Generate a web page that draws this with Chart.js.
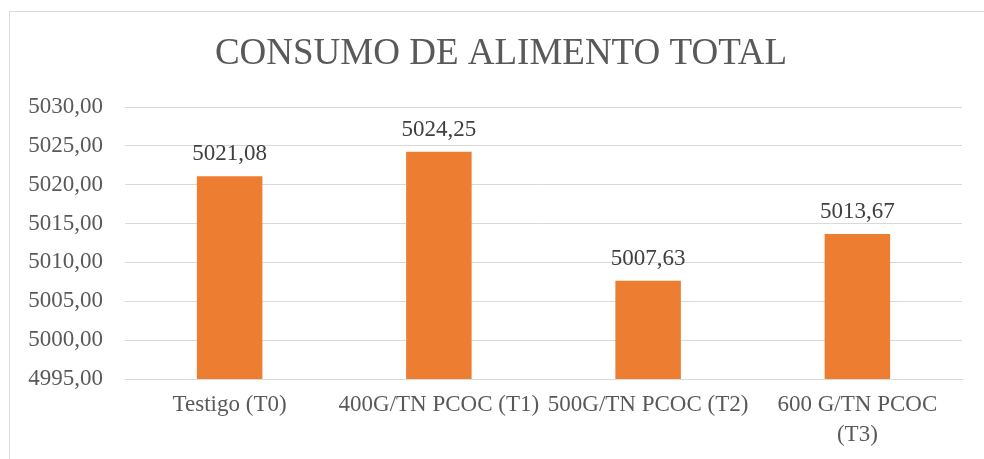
<!DOCTYPE html>
<html>
<head>
<meta charset="utf-8">
<script src="https://cdn.jsdelivr.net/npm/chart.js@4/dist/chart.umd.min.js"></script>
<style>
  html, body { margin: 0; padding: 0; width: 984px; height: 459px; overflow: hidden; background: #fff; }
  #frame { position: absolute; left: 9px; top: 11px; width: 1000px; height: 500px; border-left: 1px solid #d9d9d9; border-top: 1px solid #d9d9d9; }
  #wrap { position: absolute; left: 10px; top: 12px; width: 984px; height: 447px; }
</style>
</head>
<body>
<div id="frame"></div>
<div id="wrap"><canvas id="c"></canvas></div>
<script>
const title = "CONSUMO DE ALIMENTO TOTAL";
const categories = [["Testigo (T0)"], ["400G/TN PCOC (T1)"], ["500G/TN PCOC (T2)"], ["600 G/TN PCOC", "(T3)"]];
const values = [5021.08, 5024.25, 5007.63, 5013.67];
const yMin = 4995, yMax = 5030, yStep = 5;

const FONT = '"Liberation Serif", "Times New Roman", serif';
const fmt = v => v.toFixed(2).replace('.', ',');

const dataLabels = {
  id: 'dataLabels',
  afterDatasetsDraw(chart) {
    const ctx = chart.ctx;
    const meta = chart.getDatasetMeta(0);
    ctx.save();
    ctx.font = '23px ' + FONT;
    ctx.fillStyle = '#404040';
    ctx.textAlign = 'center';
    ctx.textBaseline = 'alphabetic';
    meta.data.forEach((bar, i) => {
      ctx.fillText(fmt(values[i]), bar.x, bar.y - 16);
    });
    ctx.restore();
  }
};

const titleDraw = {
  id: 'titleDraw',
  afterDraw(chart) {
    const ctx = chart.ctx;
    ctx.save();
    ctx.font = '37px ' + FONT;
    ctx.fillStyle = '#595959';
    ctx.textAlign = 'center';
    ctx.textBaseline = 'middle';
    ctx.fillText(title, chart.width / 2 - 1, 42);
    ctx.restore();
  }
};

new Chart(document.getElementById('c'), {
  type: 'bar',
  data: {
    labels: categories,
    datasets: [{
      data: values,
      backgroundColor: '#ED7D31',
      borderWidth: 0,
      categoryPercentage: 1,
      barPercentage: 0.313
    }]
  },
  options: {
    responsive: true,
    maintainAspectRatio: false,
    animation: false,
    events: [],
    layout: { padding: { left: 0, right: 32, top: 95, bottom: 0 } },
    plugins: {
      legend: { display: false },
      tooltip: { enabled: false },
      title: { display: false }
    },
    scales: {
      x: {
        grid: { display: false, drawTicks: false },
        border: { display: true, color: '#d9d9d9', width: 1 },
        ticks: {
          color: '#595959',
          font: { family: FONT, size: 23, lineHeight: 1.3 },
          padding: 11,
          autoSkip: false,
          maxRotation: 0,
          minRotation: 0
        },
        afterFit(scale) { scale.height = 80; }
      },
      y: {
        min: yMin,
        max: yMax,
        grid: { color: '#d9d9d9', lineWidth: 1, drawTicks: false },
        border: { display: false },
        ticks: {
          stepSize: yStep,
          color: '#595959',
          font: { family: FONT, size: 23 },
          padding: 22,
          callback: v => fmt(v)
        },
        afterFit(scale) { scale.width = 115; }
      }
    }
  },
  plugins: [dataLabels, titleDraw]
});
</script>
</body>
</html>
